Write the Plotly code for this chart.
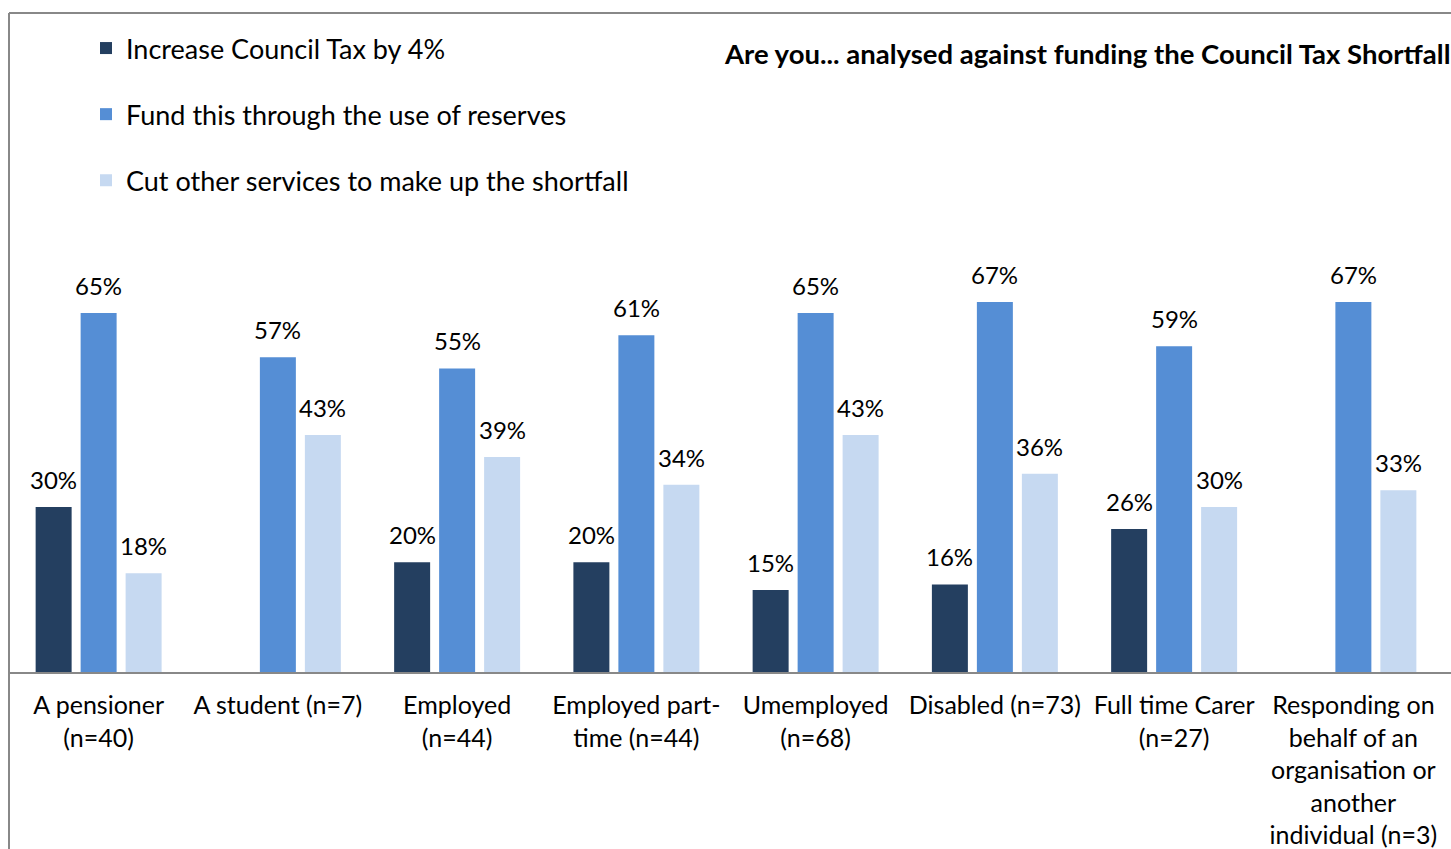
import plotly.graph_objects as go

# Survey breakdown: preferred way of funding the Council Tax shortfall by respondent status
categories = [
    "A pensioner<br>(n=40)",
    "A student (n=7)",
    "Employed<br>(n=44)",
    "Employed part-<br>time (n=44)",
    "Umemployed<br>(n=68)",
    "Disabled (n=73)",
    "Full time Carer<br>(n=27)",
    "Responding on<br>behalf of an<br>organisation or<br>another<br>individual (n=3)",
]
series_names = [
    "Increase Council Tax by 4%",
    "Fund this through the use of reserves",
    "Cut other services to make up the shortfall",
]
increase_tax = [30, None, 20, 20, 15, 16, 26, None]
use_reserves = [65, 57, 55, 61, 65, 67, 59, 67]
cut_services = [18, 43, 39, 34, 43, 36, 30, 33]
series_values = [increase_tax, use_reserves, cut_services]
series_colors = ["#243F60", "#558ED5", "#C6D9F1"]

W, H = 1451, 849
M_L, M_R, M_T, M_B = 9, 8, 230, 176
PLOT_W = W - M_L - M_R
PLOT_H = H - M_T - M_B
Y_MAX = 80

FONT = "Lato"
fig = go.Figure()
for i, (name, vals, col) in enumerate(zip(series_names, series_values, series_colors)):
    fig.add_trace(go.Bar(
        x=categories, y=vals, name=name, marker=dict(color=col, line=dict(width=0)),
        legendgroup=f"g{i}",
    ))

# value labels above each bar
slot_px = PLOT_W / len(categories) * (1 - 0.247) / 3
for i, vals in enumerate(series_values):
    for cat, v in zip(categories, vals):
        if v is None:
            continue
        fig.add_annotation(
            x=cat, y=v, xref="x", yref="y", text=f"{v}%", showarrow=False,
            xshift=(i - 1) * slot_px, yanchor="bottom", yshift=11,
            font=dict(family=FONT, size=24, color="#000000"),
        )

fig.add_annotation(
    x=(W - M_L + 1) / PLOT_W, y=(H - M_B - 54) / PLOT_H, xref="paper", yref="paper",
    xanchor="right", yanchor="middle", showarrow=False,
    text="<b>Are you... analysed against funding the Council Tax Shortfall</b>",
    font=dict(family=FONT, size=27.5, color="#000000"),
)

# outer frame (left and top edges) and baseline
grey = "#888888"
fig.add_shape(type="line", xref="paper", yref="paper", x0=0, x1=0,
              y0=-0.5, y1=(H - M_B - 13) / PLOT_H, line=dict(color=grey, width=2))
fig.add_shape(type="line", xref="paper", yref="paper", x0=0, x1=1.2,
              y0=(H - M_B - 13) / PLOT_H, y1=(H - M_B - 13) / PLOT_H, line=dict(color=grey, width=2))
fig.add_shape(type="line", xref="paper", yref="paper", x0=0, x1=1.2,
              y0=0, y1=0, line=dict(color=grey, width=2))

fig.update_layout(
    width=W, height=H,
    margin=dict(l=M_L, r=M_R, t=M_T, b=M_B, autoexpand=False),
    paper_bgcolor="#FFFFFF", plot_bgcolor="#FFFFFF",
    barmode="group", bargap=0.247, bargroupgap=0.2,
    font=dict(family=FONT, size=25, color="#000000"),
    showlegend=True,
    legend=dict(
        x=(86 - M_L) / PLOT_W, y=(H - M_B - 24) / PLOT_H, xanchor="left", yanchor="top",
        orientation="v", tracegroupgap=28, bgcolor="rgba(0,0,0,0)",
        font=dict(family=FONT, size=27, color="#000000"), itemwidth=30,
    ),
    xaxis=dict(showline=False, ticks="", showgrid=False, zeroline=False, automargin=False,
               tickfont=dict(family=FONT, size=25), ticklabelstandoff=15),
    yaxis=dict(range=[0, Y_MAX], visible=False, showgrid=False, zeroline=False, automargin=False),
)

fig.write_html("out.html")
